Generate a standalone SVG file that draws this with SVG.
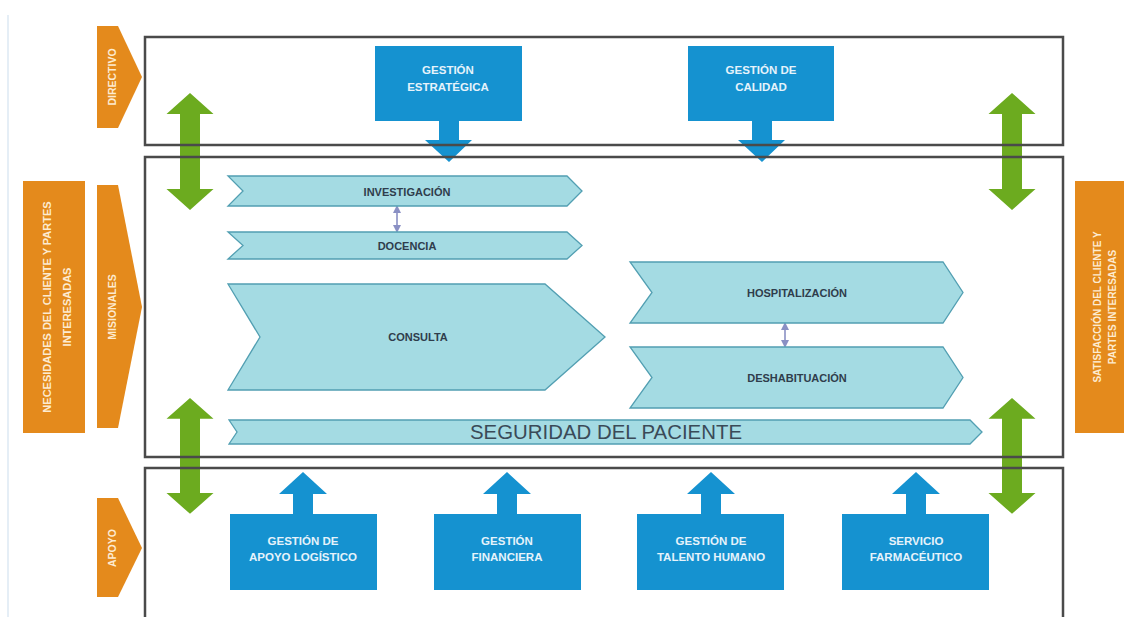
<svg xmlns="http://www.w3.org/2000/svg" width="1128" height="617" viewBox="0 0 1128 617">
<style>
.frame{fill:none;stroke:#4a4a4a;stroke-width:2.5}
.orange{fill:#e48a1c}
.olab{font-family:"Liberation Sans",Arial,sans-serif;font-weight:bold;font-size:10.5px;fill:#fdebd0;text-anchor:middle}
.blue{fill:#1592d0}
.blab{font-family:"Liberation Sans",Arial,sans-serif;font-weight:bold;font-size:11.5px;fill:#e6f3fb;text-anchor:middle}
.chev{fill:#a4dbe3;stroke:#529fb2;stroke-width:1.3}
.clab{font-family:"Liberation Sans",Arial,sans-serif;font-weight:bold;font-size:11px;fill:#2f3d4c;text-anchor:middle}
.green{fill:#6cab1f}
.small{stroke:#8a90c4;stroke-width:1.6;fill:none}
</style>
<defs>
<path id="dbl" d="M0,0 L23.5,21 L10,21 L10,96 L23.5,96 L0,117 L-23.5,96 L-10,96 L-10,21 L-23.5,21 Z"/>
<marker id="sh" viewBox="0 0 6 6" refX="3" refY="3" markerWidth="5" markerHeight="5" orient="auto-start-reverse">
<path d="M0,0 L6,3 L0,6 Z" fill="#8a90c4"/>
</marker>
</defs>
<rect x="0" y="0" width="1128" height="617" fill="#ffffff"/>
<line x1="8" y1="15" x2="8" y2="617" stroke="#dde9f3" stroke-width="1.5"/>

<g id="connectors">
<use href="#dbl" class="green" transform="translate(190,93)"/>
<use href="#dbl" class="green" transform="translate(1012,93)"/>
<use href="#dbl" class="green" transform="translate(190,398) scale(1,0.99)"/>
<use href="#dbl" class="green" transform="translate(1012,398) scale(1,0.99)"/>
<path class="blue" d="M439,121 L459,121 L459,140 L472,140 L449,162 L425,140 L439,140 Z"/>
<path class="blue" d="M752,121 L772,121 L772,140 L785,140 L762,162 L738,140 L752,140 Z"/>
<path class="blue" d="M293,514 L313,514 L313,494 L327,494 L303,472 L279,494 L293,494 Z"/>
<path class="blue" d="M497,514 L517,514 L517,494 L531,494 L507,472 L483,494 L497,494 Z"/>
<path class="blue" d="M701,514 L721,514 L721,494 L735,494 L711,472 L687,494 L701,494 Z"/>
<path class="blue" d="M906,514 L926,514 L926,494 L940,494 L916,472 L892,494 L906,494 Z"/>
<line class="small" x1="397" y1="209" x2="397" y2="229" marker-start="url(#sh)" marker-end="url(#sh)"/>
<line class="small" x1="785" y1="326" x2="785" y2="344" marker-start="url(#sh)" marker-end="url(#sh)"/>
</g>

<g id="frame-directivo"><rect class="frame" x="145" y="37" width="918" height="108"/></g>
<g id="frame-misionales"><rect class="frame" x="145" y="157" width="918" height="300"/></g>
<g id="frame-apoyo"><rect class="frame" x="145" y="468" width="918" height="160"/></g>

<g id="lbl-directivo">
<path class="orange" d="M97,26 L118,26 L142,77 L118,128 L97,128 Z"/>
<text class="olab" transform="translate(116,77) rotate(-90)">DIRECTIVO</text>
</g>
<g id="lbl-misionales">
<path class="orange" d="M97,185 L118,185 L142,307 L118,428 L97,428 Z"/>
<text class="olab" transform="translate(116,307) rotate(-90)">MISIONALES</text>
</g>
<g id="lbl-apoyo">
<path class="orange" d="M97,498 L118,498 L142,548 L118,597 L97,597 Z"/>
<text class="olab" transform="translate(116,548) rotate(-90)">APOYO</text>
</g>
<g id="lbl-necesidades">
<rect class="orange" x="23" y="181" width="62" height="252"/>
<text class="olab" style="font-size:11px" transform="translate(51,307) rotate(-90)">NECESIDADES DEL CLIENTE Y PARTES</text>
<text class="olab" style="font-size:11px" transform="translate(71,307) rotate(-90)">INTERESADAS</text>
</g>
<g id="lbl-satisfaccion">
<rect class="orange" x="1075" y="181" width="49" height="252"/>
<text class="olab" style="font-size:10px" transform="translate(1101,307) rotate(-90)">SATISFACCIÓN DEL CLIENTE Y</text>
<text class="olab" style="font-size:10px" transform="translate(1116,307) rotate(-90)">PARTES INTERESADAS</text>
</g>

<g id="gestion-estrategica">
<rect class="blue" x="375" y="46" width="147" height="75"/>
<text class="blab" x="448" y="74">GESTIÓN</text>
<text class="blab" x="448" y="91">ESTRATÉGICA</text>
</g>
<g id="gestion-calidad">
<rect class="blue" x="688" y="46" width="146" height="75"/>
<text class="blab" x="761" y="74">GESTIÓN DE</text>
<text class="blab" x="761" y="91">CALIDAD</text>
</g>

<g id="investigacion">
<path class="chev" d="M228,176 L567,176 L582,191 L567,206 L228,206 L243,191 Z"/>
<text class="clab" x="407" y="196">INVESTIGACIÓN</text>
</g>
<g id="docencia">
<path class="chev" d="M228,232 L567,232 L582,245.5 L567,259 L228,259 L243,245.5 Z"/>
<text class="clab" x="407" y="250">DOCENCIA</text>
</g>
<g id="consulta">
<path class="chev" d="M228,284 L545,284 L605,337 L545,390 L228,390 L260,337 Z"/>
<text class="clab" x="418" y="341">CONSULTA</text>
</g>
<g id="hospitalizacion">
<path class="chev" d="M630,262 L943,262 L963,292.5 L943,323 L630,323 L652,292.5 Z"/>
<text class="clab" x="797" y="297">HOSPITALIZACIÓN</text>
</g>
<g id="deshabituacion">
<path class="chev" d="M630,347 L943,347 L963,377.5 L943,408 L630,408 L652,377.5 Z"/>
<text class="clab" x="797" y="382">DESHABITUACIÓN</text>
</g>
<g id="seguridad">
<path class="chev" d="M229,420 L970,420 L982,432 L970,444 L229,444 L237,432 Z"/>
<text x="606" y="439" style="font-family:'Liberation Sans',Arial,sans-serif;font-size:20px;fill:#3a4a58;text-anchor:middle" textLength="272" lengthAdjust="spacingAndGlyphs">SEGURIDAD DEL PACIENTE</text>
</g>

<g id="apoyo-logistico">
<rect class="blue" x="230" y="514" width="147" height="76"/>
<text class="blab" x="303" y="545">GESTIÓN DE</text>
<text class="blab" x="303" y="561">APOYO LOGÍSTICO</text>
</g>
<g id="gestion-financiera">
<rect class="blue" x="434" y="514" width="147" height="76"/>
<text class="blab" x="507" y="545">GESTIÓN</text>
<text class="blab" x="507" y="561">FINANCIERA</text>
</g>
<g id="talento-humano">
<rect class="blue" x="637" y="514" width="147" height="76"/>
<text class="blab" x="711" y="545">GESTIÓN DE</text>
<text class="blab" x="711" y="561">TALENTO HUMANO</text>
</g>
<g id="servicio-farmaceutico">
<rect class="blue" x="842" y="514" width="147" height="76"/>
<text class="blab" x="916" y="545">SERVICIO</text>
<text class="blab" x="916" y="561">FARMACÉUTICO</text>
</g>
</svg>
